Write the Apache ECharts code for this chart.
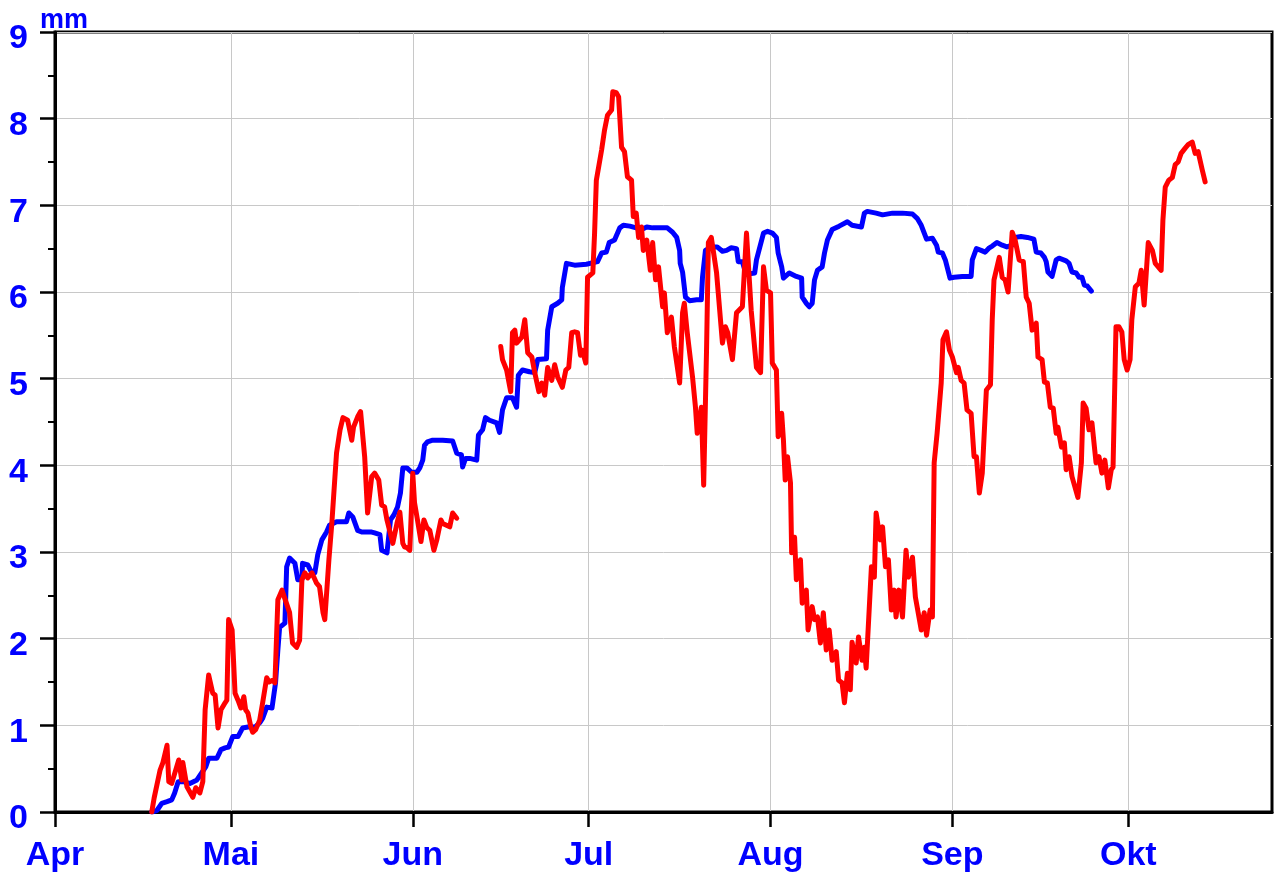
<!DOCTYPE html>
<html><head><meta charset="utf-8">
<script src="https://cdn.jsdelivr.net/npm/echarts@6/dist/echarts.min.js"></script>
<style>html,body{margin:0;padding:0;background:#fff}#c{width:1275px;height:875px}</style>
</head><body><div id="c"></div>
<script>
// x = days since 1 April, y = mm
const monthNames = ['Apr','Mai','Jun','Jul','Aug','Sep','Okt'];
const monthDays  = [0, 30, 61, 91, 122, 153, 183];
const yTicks = [0,1,2,3,4,5,6,7,8,9];

const blueDays = [16.5,17.4,18.2,19.1,19.9,20.4,21.0,21.8,23.0,24.2,25.0,25.7,26.2,27.6,28.3,29.0,29.6,30.3,31.2,32.0,32.9,34.1,34.9,35.4,36.1,37.0,37.3,37.6,38.0,38.3,39.2,39.5,40.0,40.9,41.4,42.1,42.2,43.1,43.8,44.3,44.8,45.5,46.3,46.8,48.0,49.7,50.1,50.8,51.6,52.3,54.0,54.5,55.4,55.7,56.6,57.2,57.8,58.4,58.9,59.3,60.0,60.8,61.7,62.2,62.7,63.0,63.5,64.4,66.1,67.8,68.5,69.3,69.5,70.0,70.7,71.9,72.2,72.9,73.4,74.1,75.3,75.8,76.3,77.0,78.0,78.7,79.0,79.7,80.9,81.8,82.3,83.8,84.0,84.7,85.7,86.4,86.5,87.2,88.6,90.6,92.5,93.2,94.0,94.5,95.4,96.3,96.9,98.0,99.1,100.0,100.9,101.9,103.4,104.4,105.3,106.0,106.5,106.6,107.0,107.5,108.2,109.4,110.2,110.4,110.9,111.9,112.9,113.8,114.5,115.3,116.2,116.5,117.2,117.7,118.4,119.3,119.6,120.8,121.5,122.3,123.0,123.3,123.9,124.2,125.2,126.4,127.3,127.4,128.1,128.6,129.1,129.5,130.0,130.8,131.2,131.7,132.5,133.7,135.1,135.9,137.5,138.0,138.5,140.0,141.1,142.8,144.5,146.2,147.0,147.7,148.6,149.6,150.3,150.6,151.3,151.8,152.1,152.6,153.3,154.7,156.2,156.4,157.1,157.9,158.6,159.3,159.8,160.6,161.5,162.3,163.2,163.7,164.7,165.8,166.9,167.3,168.1,168.7,169.0,169.3,170.0,170.7,171.2,172.4,172.9,173.4,174.1,174.6,175.1,175.5,176.0,176.7];
const blueVals = [0,0.02,0.10,0.12,0.14,0.22,0.35,0.35,0.33,0.37,0.45,0.52,0.62,0.62,0.72,0.74,0.75,0.87,0.87,0.97,0.98,0.98,1.03,1.08,1.21,1.20,1.21,1.49,1.87,2.13,2.18,2.83,2.93,2.87,2.68,2.68,2.87,2.85,2.76,2.76,2.97,3.14,3.23,3.31,3.35,3.35,3.45,3.40,3.25,3.23,3.23,3.22,3.20,3.02,2.99,3.37,3.43,3.52,3.68,3.97,3.97,3.92,3.92,3.97,4.06,4.23,4.27,4.29,4.29,4.28,4.14,4.12,3.98,4.08,4.08,4.06,4.35,4.41,4.55,4.52,4.49,4.38,4.64,4.78,4.78,4.67,5.04,5.10,5.08,5.07,5.22,5.23,5.56,5.83,5.87,5.91,6.05,6.33,6.31,6.32,6.35,6.45,6.46,6.57,6.60,6.74,6.77,6.76,6.74,6.72,6.75,6.74,6.74,6.74,6.69,6.63,6.48,6.33,6.23,5.94,5.90,5.91,5.91,6.17,6.48,6.52,6.52,6.47,6.48,6.51,6.50,6.35,6.35,6.23,6.21,6.22,6.37,6.68,6.70,6.68,6.63,6.45,6.29,6.16,6.22,6.18,6.16,5.94,5.87,5.83,5.87,6.14,6.25,6.29,6.45,6.60,6.72,6.76,6.81,6.77,6.75,6.91,6.93,6.91,6.89,6.91,6.91,6.90,6.85,6.77,6.61,6.62,6.54,6.46,6.45,6.37,6.36,6.16,6.17,6.18,6.18,6.37,6.50,6.48,6.46,6.51,6.53,6.57,6.54,6.52,6.54,6.63,6.64,6.63,6.61,6.46,6.45,6.40,6.35,6.23,6.18,6.37,6.39,6.36,6.33,6.23,6.22,6.17,6.17,6.08,6.07,6.01];

const redDays = [16.5,16.9,17.2,17.9,18.4,19.1,19.4,19.9,21.1,21.6,21.8,22.5,23.0,23.5,24.0,24.7,25.2,25.6,26.2,26.9,27.3,27.8,28.3,29.0,29.3,29.6,30.2,30.7,31.2,31.7,32.2,32.5,32.9,33.4,33.7,34.2,34.9,35.4,36.1,36.5,37.1,37.5,38.0,38.7,40.0,40.5,41.2,41.7,42.1,42.6,43.1,43.8,44.6,45.1,45.7,46.0,46.7,47.2,48.0,48.6,49.1,49.9,50.6,50.9,51.6,52.1,52.8,53.3,54.0,54.5,55.2,55.7,56.2,56.6,57.6,58.3,58.8,59.3,59.6,60.0,60.5,61.0,61.3,61.8,62.4,62.9,63.4,63.9,64.6,65.1,65.8,66.1,67.3,67.8,68.5,
  72.0,
  76.0,76.3,77.0,77.7,78.0,78.4,78.7,79.6,80.1,80.6,81.3,81.8,82.5,83.0,83.5,84.0,84.7,85.2,85.7,86.5,87.1,87.6,88.1,88.6,89.1,89.6,89.9,90.5,90.8,91.7,92.0,92.3,93.2,93.7,94.2,94.9,95.1,95.7,96.1,96.6,97.1,97.6,98.3,98.6,99.1,99.5,100.0,100.3,100.9,101.5,101.9,102.4,102.9,103.6,103.9,104.4,105.1,105.6,106.5,107.0,107.3,107.8,108.7,109.2,109.5,110.2,110.6,111.1,111.4,111.9,112.8,113.8,114.3,114.7,115.5,116.2,117.2,117.9,118.7,119.6,120.3,120.8,121.3,122.0,122.3,123.0,123.3,123.9,124.2,124.5,124.9,125.4,125.6,126.1,126.4,127.1,127.4,128.1,128.4,129.1,129.5,130.0,130.5,131.0,131.5,132.0,132.5,133.2,133.6,134.2,134.6,135.1,135.6,135.9,136.6,137.0,137.6,138.0,138.3,139.2,139.7,140.0,140.7,141.1,141.6,142.1,142.6,143.1,143.4,143.9,144.5,145.1,145.5,146.2,146.7,147.7,148.2,148.6,149.2,149.6,149.9,150.4,151.1,151.4,152.0,152.5,153.0,153.7,154.0,154.5,155.0,155.5,156.2,156.7,157.1,157.6,158.1,158.8,159.5,159.8,160.1,161.0,161.5,162.0,162.5,163.2,163.7,164.4,165.1,165.6,166.1,166.6,167.3,167.6,168.3,168.7,169.2,169.7,170.2,170.7,171.0,171.6,172.1,172.4,172.9,173.4,174.4,175.0,175.3,175.8,176.3,176.8,177.5,178.0,178.5,179.0,179.6,180.1,180.4,180.9,181.4,181.9,182.3,182.8,183.3,183.6,184.2,184.8,185.2,185.7,186.4,187.1,187.6,188.1,188.6,188.9,189.3,189.9,190.5,191.0,191.5,192.0,192.7,193.2,193.9,194.4,194.9,195.6,196.1];
const redVals = [0,0.16,0.17,0.48,0.57,0.77,0.35,0.33,0.60,0.37,0.57,0.29,0.23,0.17,0.28,0.22,0.35,1.18,1.58,1.37,1.35,0.97,1.18,1.26,1.29,2.22,2.10,1.37,1.29,1.20,1.33,1.18,1.14,0.98,0.92,0.95,1.06,1.26,1.55,1.50,1.52,1.49,2.45,2.56,2.30,1.95,1.90,1.98,2.68,2.76,2.70,2.76,2.64,2.60,2.30,2.22,2.91,3.33,4.14,4.41,4.55,4.52,4.29,4.44,4.56,4.62,4.10,3.45,3.87,3.91,3.83,3.54,3.52,3.37,3.10,3.33,3.46,3.10,3.06,3.05,3.02,3.91,3.57,3.37,3.12,3.37,3.28,3.25,3.02,3.14,3.37,3.33,3.29,3.45,3.39,
  null,
  5.37,5.22,5.10,4.85,5.53,5.56,5.41,5.48,5.68,5.30,5.25,5.07,4.85,4.95,4.81,5.13,4.98,5.16,5.02,4.90,5.10,5.13,5.53,5.54,5.53,5.27,5.33,5.18,6.17,6.22,6.68,7.29,7.64,7.87,8.04,8.10,8.31,8.30,8.25,7.67,7.62,7.33,7.29,6.87,6.91,6.63,6.75,6.48,6.60,6.25,6.57,6.14,6.29,5.83,5.99,5.53,5.71,5.37,4.95,5.76,5.87,5.53,5.02,4.67,4.37,4.67,3.77,5.37,6.57,6.63,6.22,5.41,5.60,5.53,5.22,5.76,5.83,6.68,5.79,5.13,5.07,6.29,6.02,5.99,5.18,5.10,4.33,4.60,4.29,3.83,4.10,3.80,2.99,3.17,2.68,2.91,2.41,2.56,2.10,2.37,2.22,2.25,1.95,2.30,1.87,2.10,1.75,1.85,1.52,1.49,1.26,1.60,1.41,1.96,1.72,2.02,1.75,1.90,1.66,2.83,2.71,3.45,3.14,3.29,2.83,2.91,2.33,2.56,2.25,2.56,2.25,3.02,2.71,2.94,2.48,2.10,2.30,2.04,2.33,2.25,4.03,4.37,4.95,5.45,5.54,5.33,5.25,5.07,5.13,4.98,4.95,4.64,4.60,4.10,4.10,3.68,3.91,4.87,4.93,5.68,6.14,6.40,6.17,6.14,6.00,6.69,6.60,6.37,6.35,5.94,5.87,5.56,5.64,5.25,5.22,4.96,4.95,4.67,4.66,4.37,4.44,4.21,4.26,3.95,4.10,3.87,3.63,4.03,4.72,4.66,4.41,4.49,4.03,4.10,3.91,4.06,3.74,3.95,3.98,5.60,5.60,5.54,5.22,5.10,5.22,5.68,6.06,6.10,6.25,5.85,6.57,6.48,6.33,6.29,6.25,6.83,7.21,7.29,7.32,7.47,7.50,7.60,7.66,7.70,7.73,7.60,7.62,7.41,7.27];

const zip = (xs, ys) => xs.map((x, i) => [x, ys[i] === null ? '-' : ys[i]]);
const FONT = 'Liberation Sans, Arial, sans-serif';
const BLUE = '#0000ff';

const chart = echarts.init(document.getElementById('c'), null, {renderer: 'canvas'});
chart.setOption({
  animation: false,
  backgroundColor: '#fff',
  grid: {left: 55, right: 3, top: 32, bottom: 63, show: true, borderColor: '#000', borderWidth: 3, backgroundColor: 'transparent'},
  graphic: [{type: 'text', left: 40, top: 7, style: {text: 'mm', font: 'bold 27px ' + FONT, fill: BLUE}}],
  xAxis: {
    type: 'value', min: 0, max: 207.5,
    axisLine: {show: true, onZero: false, lineStyle: {color: '#000', width: 3}},
    axisTick: {show: true, customValues: monthDays, length: 15, lineStyle: {color: '#000', width: 2.5}},
    axisLabel: {customValues: monthDays, margin: 27, color: BLUE, fontWeight: 'bold', fontSize: 34, fontFamily: FONT,
      formatter: v => monthNames[monthDays.indexOf(Math.round(v))] || ''},
    splitLine: {show: true, lineStyle: {color: '#c8c8c8', width: 1}}
  },
  yAxis: {
    type: 'value', min: 0, max: 9, interval: 1,
    axisLine: {show: true, lineStyle: {color: '#000', width: 3}},
    axisTick: {show: true, length: 15, lineStyle: {color: '#000', width: 2.5}},
    minorTick: {show: true, splitNumber: 2, length: 7, lineStyle: {color: '#000', width: 2}},
    axisLabel: {margin: 27, color: BLUE, fontWeight: 'bold', fontSize: 34, fontFamily: FONT,
      verticalAlign: 'top', lineHeight: 14,
      formatter: v => (yTicks.indexOf(v) >= 0 ? String(v) : '')},
    splitLine: {show: true, lineStyle: {color: '#c8c8c8', width: 1}}
  },
  series: [
    {type: 'line', data: zip(blueDays, blueVals), showSymbol: false, symbol: 'none', connectNulls: false,
     lineStyle: {color: BLUE, width: 5, join: 'round', cap: 'round'}, z: 3},
    {type: 'line', data: zip(redDays, redVals), showSymbol: false, symbol: 'none', connectNulls: false,
     lineStyle: {color: '#ff0000', width: 5, join: 'round', cap: 'round'}, z: 4}
  ]
});
</script>
</body></html>
